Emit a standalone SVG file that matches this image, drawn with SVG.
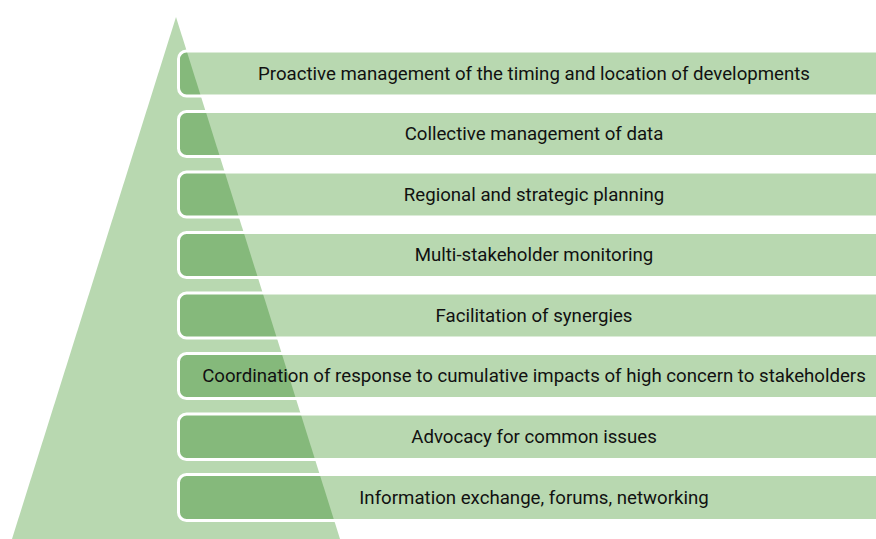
<svg xmlns="http://www.w3.org/2000/svg" width="876" height="539" viewBox="0 0 876 539">
  <style>
    .bg { fill: #b8d8b0; }
    .bar { fill: #b8d8b0; }
    .dark { fill: #85b97b; }
    .edge { fill: none; stroke: #ffffff; stroke-width: 3; }
    .lbl { font-family: Roboto, "Liberation Sans", sans-serif; font-size: 18.65px; fill: #111111; text-anchor: middle; dominant-baseline: central; }
  </style>
  <defs>
    <polygon id="tri" points="176,17 12,539 340,539"/>
    <clipPath id="c1"><rect x="178.5" y="51" width="720" height="45" rx="8"/></clipPath>
    <clipPath id="c2"><rect x="178.5" y="111.5" width="720" height="45" rx="8"/></clipPath>
    <clipPath id="c3"><rect x="178.5" y="172" width="720" height="45" rx="8"/></clipPath>
    <clipPath id="c4"><rect x="178.5" y="232.5" width="720" height="45" rx="8"/></clipPath>
    <clipPath id="c5"><rect x="178.5" y="293" width="720" height="45" rx="8"/></clipPath>
    <clipPath id="c6"><rect x="178.5" y="353.5" width="720" height="45" rx="8"/></clipPath>
    <clipPath id="c7"><rect x="178.5" y="414" width="720" height="45.5" rx="8"/></clipPath>
    <clipPath id="c8"><rect x="178.5" y="474.5" width="720" height="46" rx="8"/></clipPath>
  </defs>
  <g id="pyramid">
    <use href="#tri" class="bg"/>
  </g>
  <g id="connectors"></g>
  <g id="n1">
    <rect class="bar" x="178.5" y="51" width="720" height="45" rx="8"/>
    <use href="#tri" class="dark" clip-path="url(#c1)"/>
    <rect class="edge" x="178.5" y="51" width="720" height="45" rx="8"/>
    <text class="lbl" x="534" y="73.5">Proactive management of the timing and location of developments</text>
  </g>
  <g id="n2">
    <rect class="bar" x="178.5" y="111.5" width="720" height="45" rx="8"/>
    <use href="#tri" class="dark" clip-path="url(#c2)"/>
    <rect class="edge" x="178.5" y="111.5" width="720" height="45" rx="8"/>
    <text class="lbl" x="534" y="134">Collective management of data</text>
  </g>
  <g id="n3">
    <rect class="bar" x="178.5" y="172" width="720" height="45" rx="8"/>
    <use href="#tri" class="dark" clip-path="url(#c3)"/>
    <rect class="edge" x="178.5" y="172" width="720" height="45" rx="8"/>
    <text class="lbl" x="534" y="194.5">Regional and strategic planning</text>
  </g>
  <g id="n4">
    <rect class="bar" x="178.5" y="232.5" width="720" height="45" rx="8"/>
    <use href="#tri" class="dark" clip-path="url(#c4)"/>
    <rect class="edge" x="178.5" y="232.5" width="720" height="45" rx="8"/>
    <text class="lbl" x="534" y="255">Multi-stakeholder monitoring</text>
  </g>
  <g id="n5">
    <rect class="bar" x="178.5" y="293" width="720" height="45" rx="8"/>
    <use href="#tri" class="dark" clip-path="url(#c5)"/>
    <rect class="edge" x="178.5" y="293" width="720" height="45" rx="8"/>
    <text class="lbl" x="534" y="315.5">Facilitation of synergies</text>
  </g>
  <g id="n6">
    <rect class="bar" x="178.5" y="353.5" width="720" height="45" rx="8"/>
    <use href="#tri" class="dark" clip-path="url(#c6)"/>
    <rect class="edge" x="178.5" y="353.5" width="720" height="45" rx="8"/>
    <text class="lbl" x="534" y="376">Coordination of response to cumulative impacts of high concern to stakeholders</text>
  </g>
  <g id="n7">
    <rect class="bar" x="178.5" y="414" width="720" height="45.5" rx="8"/>
    <use href="#tri" class="dark" clip-path="url(#c7)"/>
    <rect class="edge" x="178.5" y="414" width="720" height="45.5" rx="8"/>
    <text class="lbl" x="534" y="436.5">Advocacy for common issues</text>
  </g>
  <g id="n8">
    <rect class="bar" x="178.5" y="474.5" width="720" height="46" rx="8"/>
    <use href="#tri" class="dark" clip-path="url(#c8)"/>
    <rect class="edge" x="178.5" y="474.5" width="720" height="46" rx="8"/>
    <text class="lbl" x="534" y="497.5">Information exchange, forums, networking</text>
  </g>
</svg>
